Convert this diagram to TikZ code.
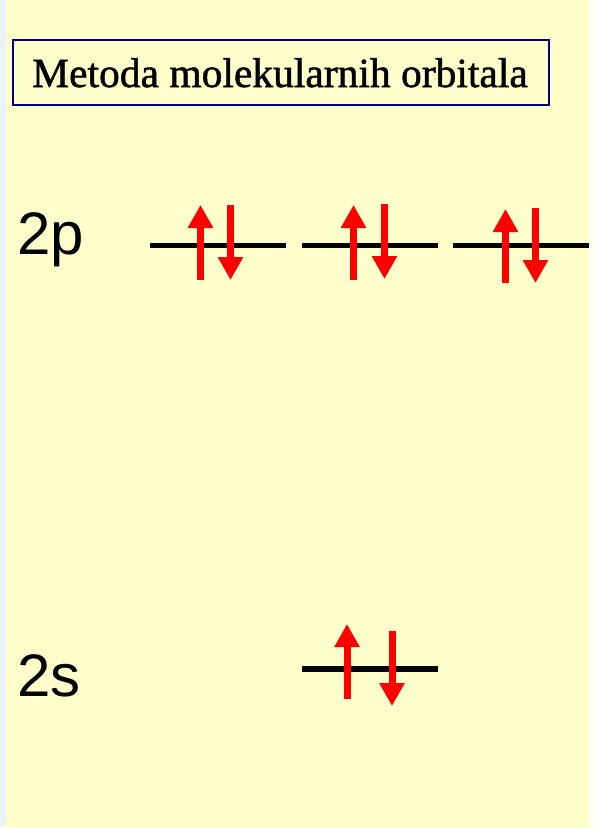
\documentclass[tikz,border=0pt]{standalone}
\usepackage{fontspec}
\setmainfont{Liberation Serif}
\newfontfamily\titlefont[FakeBold=1.2]{Liberation Serif}
\newfontfamily\labelfont{Liberation Sans}
\usetikzlibrary{arrows.meta}
\definecolor{bgyellow}{HTML}{FFFFCC}
\definecolor{stripblue}{HTML}{EAF4F9}
\definecolor{edgewhite}{HTML}{FFFFF4}
\definecolor{navy}{HTML}{000080}
\definecolor{spinred}{HTML}{FF0000}
\tikzset{
  orb/.style={fill=black, inner sep=0pt, minimum width=136pt, minimum height=5.5pt, rectangle},
  spinup/.style={draw=spinred, line width=7pt, -{Triangle[length=23pt,width=24pt]}},
  spindown/.style={draw=spinred, line width=7pt, -{Triangle[length=23pt,width=24pt]}},
  lvl/.style={font=\labelfont\fontsize{60pt}{60pt}\selectfont, anchor=base west, inner sep=0pt},
  titlebox/.style={draw=navy, line width=2pt, fill=bgyellow, inner sep=0pt}
}
\begin{document}
\begin{tikzpicture}[x=1pt,y=-1pt]
\useasboundingbox (0,0) rectangle (596,828);
\fill[edgewhite] (0,0) rectangle (596,828);
\fill[stripblue] (0,0) rectangle (6,826);
\fill[bgyellow] (6,0) rectangle (589,828);
% title
\node[titlebox, minimum width=536pt, minimum height=65pt] (tbox) at (281,72.5) {};
\node[font=\titlefont\fontsize{41.5pt}{41.5pt}\selectfont, anchor=base, inner sep=0pt] (title) at (280,87) {Metoda molekularnih orbitala};
% labels
\node[lvl] (l2p) at (17,254) {2p};
\node[lvl] (l2s) at (17,696) {2s};
% orbitals
\node[orb] (p1) at (218,245.5) {};
\node[orb] (p2) at (370,245.5) {};
\node[orb] (p3) at (521,245.5) {};
\node[orb] (s1) at (369.5,669) {};
% electrons
\coordinate (p1ua) at (200.5,280); \coordinate (p1ub) at (200.5,205);
\coordinate (p1da) at (230.5,205); \coordinate (p1db) at (230.5,280);
\coordinate (p2ua) at (353.5,280); \coordinate (p2ub) at (353.5,205);
\coordinate (p2da) at (384.5,204); \coordinate (p2db) at (384.5,279);
\coordinate (p3ua) at (505.5,283); \coordinate (p3ub) at (505.5,209);
\coordinate (p3da) at (535.5,208); \coordinate (p3db) at (535.5,283);
\coordinate (s1ua) at (347,699); \coordinate (s1ub) at (347,624);
\coordinate (s1da) at (392,631); \coordinate (s1db) at (392,706);
\draw[spinup] (p1ua) -- (p1ub);
\draw[spindown] (p1da) -- (p1db);
\draw[spinup] (p2ua) -- (p2ub);
\draw[spindown] (p2da) -- (p2db);
\draw[spinup] (p3ua) -- (p3ub);
\draw[spindown] (p3da) -- (p3db);
\draw[spinup] (s1ua) -- (s1ub);
\draw[spindown] (s1da) -- (s1db);
\end{tikzpicture}
\end{document}
